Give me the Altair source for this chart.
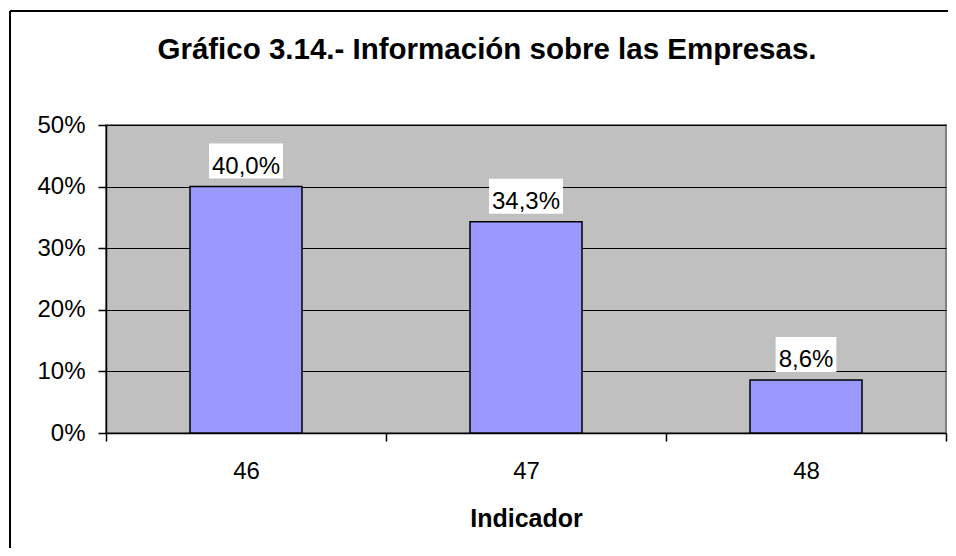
import altair as alt
import pandas as pd

categories = ["46", "47", "48"]
values = [0.400, 0.343, 0.086]
title_text = "Gráfico 3.14.- Información sobre las Empresas."
x_title = "Indicador"
y_ticks = [0.0, 0.1, 0.2, 0.3, 0.4, 0.5]

FONT = "Liberation Sans"
LABEL_FS = 24

def text_width(s, fs):
    w = {",": 0.278, "%": 0.889, ".": 0.278}
    return sum(w.get(c, 0.556) for c in s) * fs

labels = [f"{v * 100:.1f}".replace(".", ",") + "%" for v in values]
df = pd.DataFrame({
    "cat": categories,
    "v": values,
    "lab": labels,
    "bw": [text_width(l, LABEL_FS) + 6 for l in labels],
})

x_enc = alt.X(
    "cat:N",
    scale=alt.Scale(paddingInner=0, paddingOuter=0),
    axis=alt.Axis(
        title=x_title, labelAngle=0, tickBand="extent", tickSize=8,
        tickColor="black", tickWidth=1.5, domainColor="black", domainWidth=1.5,
        labelFont=FONT, labelFontSize=LABEL_FS, labelColor="black", labelPadding=18,
        titleFont=FONT, titleFontSize=25, titleFontWeight="bold", titleColor="black",
        titlePadding=23, grid=False,
    ),
)
y_enc = alt.Y(
    "v:Q",
    scale=alt.Scale(domain=[0, 0.5], nice=False),
    axis=alt.Axis(
        title=None, values=y_ticks, format=".0%", tickSize=8, tickColor="black",
        tickWidth=1.5, domainColor="black", domainWidth=1.5, grid=True,
        gridColor="black", gridWidth=1, gridOpacity=1,
        labelFont=FONT, labelFontSize=LABEL_FS, labelColor="black", labelPadding=13,
    ),
)

base = alt.Chart(df)
bars = base.mark_bar(size=112, color="#9999FF", stroke="black", strokeWidth=1.5).encode(
    x=x_enc, y=y_enc
)
boxes = base.mark_bar(color="white", yOffset=-43, y2Offset=-8).encode(
    x="cat:N", y="v:Q", y2="v", size=alt.Size("bw:Q", scale=None)
)
texts = base.mark_text(
    font=FONT, fontSize=LABEL_FS, color="black", baseline="alphabetic", yOffset=-13
).encode(x="cat:N", y="v:Q", text="lab:N")

one = alt.Data(values=[{"a": 1}])
frame_left = alt.Chart(one).mark_rule(color="black", strokeWidth=2).encode(
    x=alt.value(-96), y=alt.value(-114), y2=alt.value(430)
)
frame_top = alt.Chart(one).mark_rule(color="black", strokeWidth=2).encode(
    x=alt.value(-96), x2=alt.value(850), y=alt.value(-114)
)
title = alt.Chart(one).mark_text(
    font=FONT, fontSize=29.5, fontWeight="bold", color="black",
    align="center", baseline="alphabetic"
).encode(x=alt.value(381), y=alt.value(-66), text=alt.value(title_text))

chart = alt.layer(bars, boxes, texts, frame_left, frame_top, title).properties(
    width=840, height=308,
    autosize=alt.AutoSizeParams(type="none"),
    padding={"left": 98, "top": 117, "right": 2, "bottom": 115},
    background="white",
).configure_view(fill="#C0C0C0", stroke="#808080", strokeWidth=2)

chart.save("out.html", embed_options={"renderer": "svg", "actions": False})
